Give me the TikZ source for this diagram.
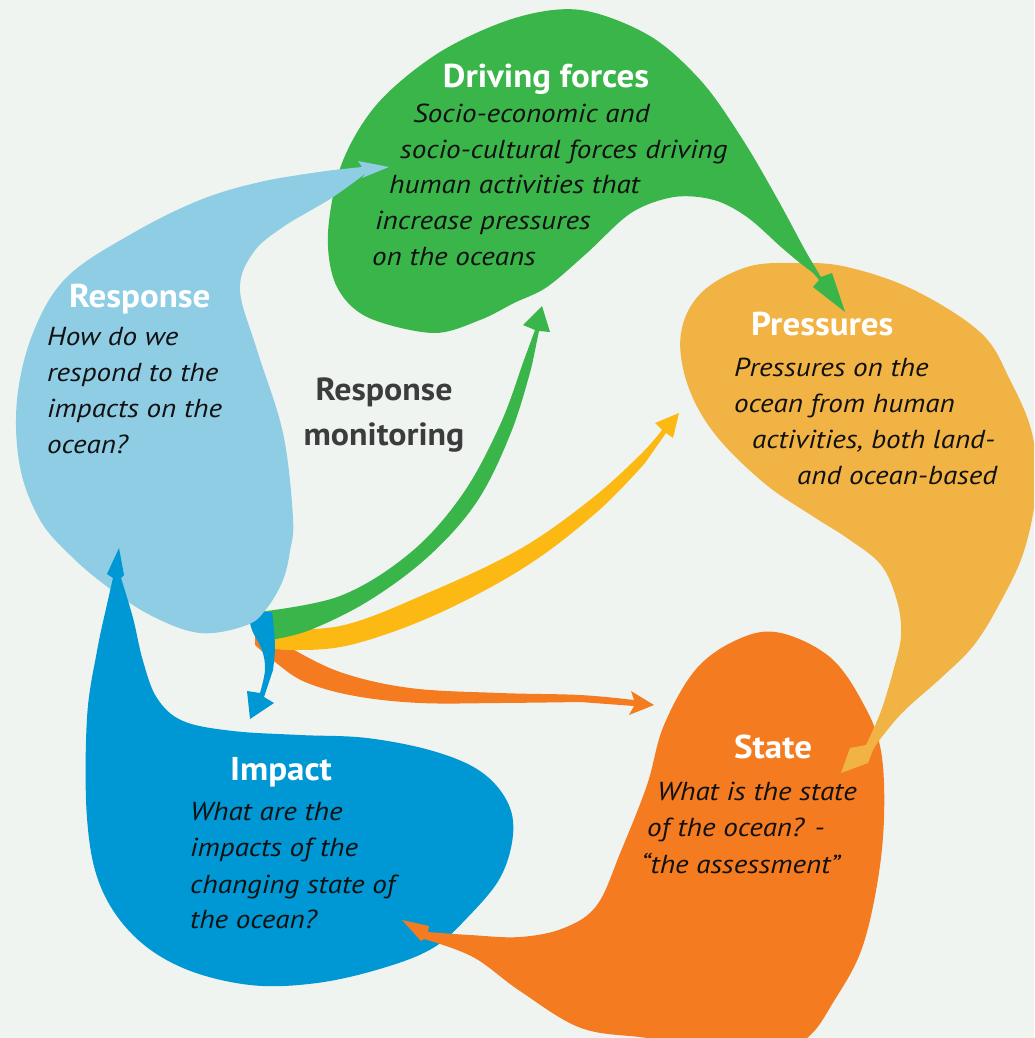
\documentclass[tikz,border=0pt]{standalone}
\usepackage{fontspec}
\setmainfont{PT Sans}
\newfontfamily\bodyf[FakeStretch=1.12]{PT Sans}
\newfontfamily\titlef[FakeStretch=1.06]{PT Sans}
\definecolor{bgc}{HTML}{F0F4F1}
\definecolor{cgreen}{HTML}{3AB54A}
\definecolor{clblue}{HTML}{8ECDE4}
\definecolor{cblue}{HTML}{0098D4}
\definecolor{corange}{HTML}{F47B20}
\definecolor{cpress}{HTML}{F1B344}
\definecolor{cyellow}{HTML}{FDB913}
\definecolor{txt}{HTML}{111111}
\definecolor{mongray}{HTML}{3C3C3C}
\begin{document}
\begin{tikzpicture}[x=1pt,y=-1pt,
  title/.style={text=white, font=\titlef\fontsize{33}{38}\selectfont\bfseries, inner sep=0, anchor=base west},
  body/.style={text=txt, font=\bodyf\fontsize{26}{30}\selectfont\itshape, inner sep=0, anchor=base west},
  mon/.style={text=mongray, font=\titlef\fontsize{32}{36}\selectfont\bfseries, inner sep=0, anchor=base},
  sm/.style={smooth, tension=0.6}]
\useasboundingbox (0,0) rectangle (1034,1038);
\fill[bgc] (0,0) rectangle (1034,1038);
\begin{scope}
\clip (0,0) rectangle (1034,1038);
% monitoring bands
\fill[corange] plot[sm] coordinates {(255,628) (285,645) (340,672) (410,688) (500,693) (580,695) (634,700)}
  -- (631,691) -- (654,705) -- (629,715) -- (634,706)
  -- plot[sm] coordinates {(580,702) (500,703) (420,703) (355,696) (305,682) (275,662) (255,645)} -- cycle;
\fill[cyellow] plot[sm] coordinates {(262,628) (340,626) (430,592) (520,549) (590,500) (640,455) (662,430)}
  -- (655,423) -- (679,413) -- (673,438) -- (666,433)
  -- plot[sm] coordinates {(645,463) (597,512) (525,567) (435,615) (350,645) (290,650) (262,646)} -- cycle;
\fill[cgreen] plot[sm] coordinates {(258,612) (340,596) (410,553) (462,495) (500,425) (524,360) (535,330)}
  -- (523,325) -- (542,306) -- (550,332) -- (539,331)
  -- plot[sm] coordinates {(532,365) (512,430) (478,500) (430,555) (370,600) (310,630) (270,640)} -- cycle;
\fill[cblue] plot[sm] coordinates {(248,612) (252,630) (262,650) (265,670) (260,693)}
  -- (247,691) -- (250,719) -- (274,703) -- (264,697)
  -- plot[sm] coordinates {(273,670) (275,647) (273,620) (272,612)} -- cycle;
% Response blob
\def\respath{(389,167) -- (358,161) -- plot[sm] coordinates {(362,167) (320,172) (260,182) (200,200) (133,233) (67,277) (33,333) (17,400) (20,467) (40,520) (70,555) (105,585) (150,615) (200,633) (247,625) (267,608) (283,580) (290,551) (293,518) (283,433) (257,350) (240,290) (253,253) (283,227) (333,197) (366,173)} -- (362,178) -- cycle}
\fill[clblue] \respath;
% Impact blob
\fill[cblue] (119,548) -- (124,575) -- plot[sm] coordinates {(121,578) (133,618) (143,661) (157,698) (183,721) (233,731) (300,735) (367,738) (433,751) (480,771) (507,801) (513,835) (500,878) (467,918) (433,948) (383,968) (317,983) (250,985) (183,968) (133,935) (100,885) (87,818) (87,718) (97,651) (108,600) (113,578)} -- (107,574) -- cycle;
% State blob
\fill[corange] (402,920) -- (429,926) -- plot[sm] coordinates {(428,932) (470,935) (520,937) (564,928) (597,905) (621,851) (647,785) (664,725) (697,668) (741,638) (781,633) (831,658) (864,705) (881,751) (884,818) (877,885) (861,951) (834,1001) (807,1038) (760,1060) (700,1048) (647,1038) (581,1028) (520,991) (473,957) (424,939)} -- (421,941) -- cycle;
% Pressures blob
\fill[cpress] (841,773) -- (868,763) -- plot[sm] coordinates {(873,750) (881,738) (904,711) (941,678) (974,645) (1001,601) (1024,551) (1036,490) (1032,433) (1010,380) (981,333) (914,290) (847,267) (797,263) (747,267) (701,293) (681,333) (687,383) (714,433) (764,483) (814,517) (847,538) (881,565) (897,601) (901,635) (894,668) (881,711) (866,745)} -- (850,748) -- cycle;
% Driving forces blob
\fill[cgreen] (845,312) -- (832,273) -- plot[smooth, tension=0.55] coordinates {(821,277) (805,250) (778,200) (743,140) (702,82) (650,36) (581,10) (515,18) (440,52) (378,103) (342,163) (328,233) (336,285) (367,317) (433,333) (480,320) (514,303) (547,287) (587,253) (631,213) (674,197) (714,200) (747,217) (781,247) (800,263) (813,273) (819,280)} -- (813,287) -- cycle;
% Response tail over green
\begin{scope}
\clip (300,140) rectangle (400,260);
\fill[clblue] \respath;
\end{scope}
\end{scope}
% texts
\node[title, anchor=base] (dft) at (546,88) {Driving forces};
\node[body] (df1) at (413,122) {Socio-economic and};
\node[body] (df2) at (400,158) {socio-cultural forces driving};
\node[body] (df3) at (389,193) {human activities that};
\node[body] (df4) at (375,229) {increase pressures};
\node[body] (df5) at (372,265) {on the oceans};
\node[title] (rt) at (69,307) {Response};
\node[body] (r1) at (47,345) {How do we};
\node[body] (r2) at (47,381) {respond to the};
\node[body] (r3) at (47,417) {impacts on the};
\node[body] (r4) at (47,453) {ocean?};
\node[mon] (m1) at (384,400) {Response};
\node[mon] (m2) at (384,445) {monitoring};
\node[title] (pt) at (751,335) {Pressures};
\node[body] (p1) at (734,376) {Pressures on the};
\node[body] (p2) at (734,412) {ocean from human};
\node[body] (p3) at (752,448) {activities, both land-};
\node[body] (p4) at (797,484) {and ocean-based};
\node[title] (st) at (734,758) {State};
\node[body] (s1) at (657,800) {What is the state};
\node[body] (s2) at (647,836) {of the ocean? -};
\node[body] (s3) at (641,873) {“the assessment”};
\node[title] (it) at (230,780) {Impact};
\node[body] (i1) at (190,820) {What are the};
\node[body] (i2) at (190,856) {impacts of the};
\node[body] (i3) at (190,893) {changing state of};
\node[body] (i4) at (190,928) {the ocean?};
\end{tikzpicture}
\end{document}
